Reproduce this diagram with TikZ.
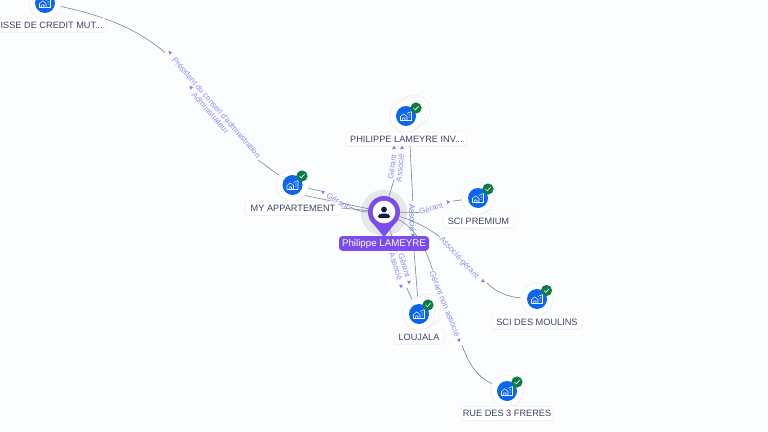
\documentclass[tikz,border=0pt]{standalone}
\usepackage{fontspec}
\setmainfont{Liberation Sans}
\usetikzlibrary{backgrounds,shadows,shapes.geometric}
\definecolor{pagetint}{RGB}{251,253,254}
\definecolor{halotint}{RGB}{230,231,234}
\definecolor{wiregray}{RGB}{125,131,152}
\definecolor{tagviolet}{RGB}{124,77,238}
\definecolor{wordviolet}{RGB}{150,136,240}
\definecolor{wordblue}{RGB}{96,126,238}
\definecolor{firmblue}{RGB}{10,102,240}
\definecolor{okgreen}{RGB}{14,124,69}
\definecolor{inkblue}{RGB}{60,66,104}
\definecolor{personnavy}{RGB}{16,32,74}
\tikzset{
  softshade/.style={drop shadow={shadow xshift=0pt,shadow yshift=-0.6pt,opacity=0.10}},
  firmdisc/.style={circle,fill=white,draw=black!6,line width=0.5pt,inner sep=0pt,minimum size=24pt,softshade},
  firmcore/.style={circle,fill=firmblue,inner sep=0pt,minimum size=15pt},
  firmback/.style={circle,fill=white,draw=black!7,line width=0.4pt,inner sep=0pt,minimum size=24pt},
  okbadge/.style={circle,fill=okgreen,inner sep=0pt,minimum size=8.4pt},
  firmcard/.style={rectangle,rounded corners=2pt,fill=white,draw=black!5,line width=0.4pt,text=inkblue,inner sep=0pt,minimum height=10.4pt,font=\fontsize{6.9}{8}\selectfont,softshade},
  wire/.style={draw=wiregray,line width=0.45pt},
  linkword/.style={text=wordviolet,inner sep=0pt,font=\fontsize{6}{7}\selectfont},
  linktick/.style={regular polygon,regular polygon sides=3,fill=tagviolet!80,inner sep=0pt,minimum size=3.4pt},
  housemark/.pic={
    \draw[yscale=-1,white,line width=0.4pt,line join=round] (-5.5,4.5) -- (5.5,4.5) (-5.5,4.5) -- (-5.5,0.5) -- (-2.2,-2.2) -- (1,0.5) -- (1,4.5) (-3.4,4.5) -- (-3.4,2) -- (-1,2) -- (-1,4.5) (1,-2.6) -- (5.5,-4.5) -- (5.5,4.5) (2.7,-1) -- (4,-1) (2.7,1.2) -- (4,1.2);
  },
  tickmark/.pic={
    \draw[yscale=-1,white,line width=0.5pt,line cap=round] (-2.3,0.2) -- (-0.7,1.8) -- (2.4,-1.6);
  }
}
\begin{document}
\begin{tikzpicture}[x=0.75pt,y=0.75pt,yscale=-1,xscale=1]
\useasboundingbox (0,0) rectangle (768,432);

\begin{pgfonlayer}{background}
\fill[pagetint] (0,0) rectangle (768,432);
%Shape: Halo
\node[circle,fill=halotint,inner sep=0pt,minimum size=35pt] (halo) at (384,213) {};
\end{pgfonlayer}

%Shape: Firm CAISSE
\node[firmdisc] (caisse) at (45,3) {};
\node[firmcore] (caissecore) at (caisse) {};
\pic at (caisse) {housemark};
\node[firmcard,anchor=east,minimum width=81pt] (caissecard) at (106,25) {ISSE DE CREDIT MUT...};
%Shape: Firm MY APPARTEMENT
\node[firmdisc] (myapp) at (292.5,185) {};
\node[firmcore] (myappcore) at (myapp) {};
\pic at (myapp) {housemark};
\node[okbadge] (myappok) at (302,176) {};
\pic at (myappok) {tickmark};
\node[firmcard,minimum width=72pt] (myappcard) at (293,208) {MY APPARTEMENT};
%Shape: Firm PHILIPPE LAMEYRE INV
\node[firmback] (investback) at (414,111) {};
\node[firmback] (investmid) at (410,113.5) {};
\node[firmdisc] (invest) at (406,116) {};
\node[firmcore] (investcore) at (invest) {};
\pic at (invest) {housemark};
\node[okbadge] (investok) at (416,108) {};
\pic at (investok) {tickmark};
\node[firmcard,minimum width=90.5pt] (investcard) at (406.5,139) {PHILIPPE LAMEYRE INV...};
%Shape: Firm SCI PREMIUM
\node[firmdisc] (premium) at (478,198) {};
\node[firmcore] (premiumcore) at (premium) {};
\pic at (premium) {housemark};
\node[okbadge] (premiumok) at (488,189) {};
\pic at (premiumok) {tickmark};
\node[firmcard,minimum width=53pt] (premiumcard) at (478.5,221) {SCI PREMIUM};
%Shape: Firm SCI DES MOULINS
\node[firmdisc] (moulins) at (537,299) {};
\node[firmcore] (moulinscore) at (moulins) {};
\pic at (moulins) {housemark};
\node[okbadge] (moulinsok) at (546.5,290.5) {};
\pic at (moulinsok) {tickmark};
\node[firmcard,minimum width=67.5pt] (moulinscard) at (537,322) {SCI DES MOULINS};
%Shape: Firm LOUJALA
\node[firmback] (loujalaback) at (427,310) {};
\node[firmback] (loujalamid) at (423,312) {};
\node[firmdisc] (loujala) at (419,314) {};
\node[firmcore] (loujalacore) at (loujala) {};
\pic at (loujala) {housemark};
\node[okbadge] (loujalaok) at (428,305) {};
\pic at (loujalaok) {tickmark};
\node[firmcard,minimum width=37.5pt] (loujalacard) at (419,337) {LOUJALA};
%Shape: Firm RUE DES 3 FRERES
\node[firmdisc] (freres) at (507,391) {};
\node[firmcore] (frerescore) at (freres) {};
\pic at (freres) {housemark};
\node[okbadge] (freresok) at (517,382) {};
\pic at (freresok) {tickmark};
\node[firmcard,minimum width=69pt] (frerescard) at (507,413.5) {RUE DES 3 FRERES};

%Shape: Pin
\node[circle,fill=tagviolet,inner sep=0pt,minimum size=24pt] (pin) at (384,212) {};
\coordinate (pintip) at (384,237);
\fill[tagviolet] (pin.205) -- (pintip) -- (pin.335) -- cycle;
\node[circle,fill=white,inner sep=0pt,minimum size=17pt] (pinface) at (pin) {};
\node[circle,fill=personnavy,inner sep=0pt,minimum size=4.4pt] (pinhead) at (384,209.5) {};
\fill[personnavy,rounded corners=1pt] (378,218) -- (378,215) -- (381,213.5) -- (387,213.5) -- (390,215) -- (390,218) -- cycle;
\node[rectangle,rounded corners=2.5pt,fill=tagviolet,text=white,inner sep=0pt,minimum width=67.5pt,minimum height=11pt,font=\fontsize{7.3}{9}\selectfont] (pinname) at (384,243.5) {Philippe LAMEYRE};

%Gap ends of the lines
\coordinate (presa) at (165,52.5);
\coordinate (presb) at (258,160);
\coordinate (myappa) at (321,191);
\coordinate (myappb) at (349,206.5);
\coordinate (topa) at (394,180);
\coordinate (invc) at (410,146);
\coordinate (inva) at (412.8,201);
\coordinate (invb) at (414,251);
\coordinate (prema) at (419,212.5);
\coordinate (premb) at (453,201);
\coordinate (assoa) at (440,237);
\coordinate (assob) at (487,283);
\coordinate (nona) at (432.5,270);
\coordinate (nonb) at (462,345);
\coordinate (lowa) at (397,252);
\coordinate (lowb) at (406.7,288);

\begin{pgfonlayer}{background}
%Straight Lines
\draw[wire] (caisse) .. controls (100,15) and (135,27) .. (presa);
\draw[wire] (presb) -- (myapp);
\draw[wire] (myapp) -- (myappa);
\draw[wire] (myappb) .. controls (356,210) and (362,212) .. (pin);
\draw[wire] (myapp.-40) -- (pin);
\draw[wire] (myappcard.east) -- (pin);
\draw[wire] (pin) -- (topa);
\draw[wire] (invc) -- (inva);
\draw[wire] (invb) -- (loujala);
\draw[wire] (pin) -- (prema);
\draw[wire] (premb) -- (premium);
\draw[wire] (pin) .. controls (415,221) and (428,228) .. (assoa);
\draw[wire] (assob) .. controls (496,292) and (508,297) .. (moulins);
\draw[wire] (pin) .. controls (415,228) and (426,248) .. (nona);
\draw[wire] (nonb) .. controls (470,368) and (480,378) .. (freres);
\draw[wire] (pin) -- (lowa);
\draw[wire] (lowb) -- (loujala);
\end{pgfonlayer}

% Text Node
\node[linkword,rotate=-49] (presword) at (216.5,107.5) {Président du conseil d'administration};
\node[linkword,rotate=-49] (adminword) at (210.5,113) {Administrateur};
\node[linkword,rotate=-30] (myappword) at (338,201) {Gérant};
\node[linkword,rotate=82] (topgerant) at (392,167) {Gérant};
\node[linkword,rotate=85] (topassocie) at (400,168) {Associé};
\node[linkword,rotate=-88,text=wordblue] (midassocie) at (412.5,218) {Associé};
\node[linkword,rotate=17] (premword) at (431,208.5) {Gérant};
\node[linkword,rotate=-47] (assoword) at (459,258) {Associé-gérant};
\node[linkword,rotate=-68] (nonword) at (445,304) {Gérant non associé};
\node[linkword,rotate=-73] (lowassocie) at (396,266.5) {Associé};
\node[linkword,rotate=-73] (lowgerant) at (404.5,265) {Gérant};

%Shape: Ticks
\node[linktick,rotate=40] (prestick) at (170,52.5) {};
\node[linktick,rotate=40] (admintick) at (191,87.5) {};
\node[linktick,rotate=60] (myapptick) at (323,192) {};
\node[linktick] (topticka) at (394,148) {};
\node[linktick] (toptickb) at (402,148) {};
\node[linktick,rotate=180,fill=wordblue] (midtick) at (413,235) {};
\node[linktick,rotate=-90] (premtick) at (448,202) {};
\node[linktick,rotate=-130] (assotick) at (483,281) {};
\node[linktick,rotate=-160] (nontick) at (459,340) {};
\node[linktick,rotate=180] (lowticka) at (401,286) {};
\node[linktick,rotate=180] (lowtickb) at (409,282) {};

\end{tikzpicture}
\end{document}
